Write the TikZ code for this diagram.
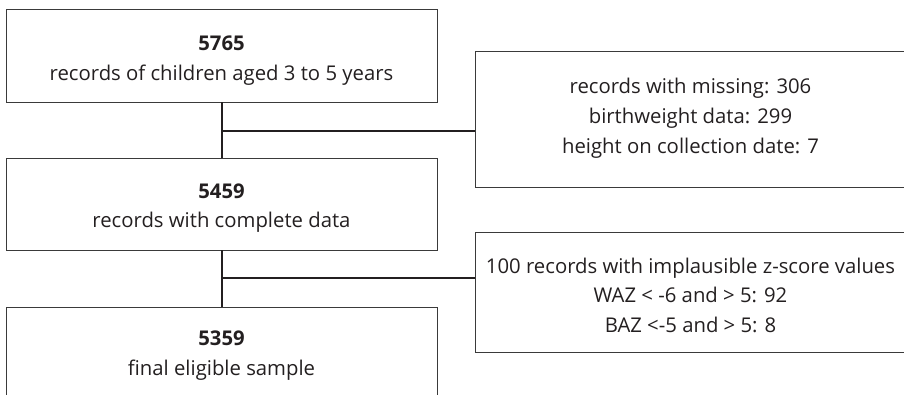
\documentclass[tikz,border=0pt]{standalone}
\usepackage{fontspec}
\setmainfont{Open Sans}
\definecolor{ink}{HTML}{231F20}
\definecolor{frame}{HTML}{3A3A3A}
\begin{document}
\begin{tikzpicture}[x=1pt,y=-1pt,
  box/.style={draw=frame,line width=1pt,rectangle,inner sep=0pt,outer sep=0pt,anchor=north west},
  conn/.style={draw=ink,line width=2pt},
  txt/.style={anchor=base,inner sep=0pt,text=ink,font=\fontsize{20.3}{30}\selectfont},
  num/.style={txt,font=\fontsize{20.3}{30}\selectfont\bfseries}]
\useasboundingbox (0,0) rectangle (904,394);
\clip (0,0) rectangle (904,394);
% boxes
\node[box,minimum width=431,minimum height=93] (b1) at (6,9) {};
\node[box,minimum width=431,minimum height=92] (b2) at (6,158) {};
\node[box,minimum width=431,minimum height=110] (b3) at (6,307) {};
\node[box,minimum width=432,minimum height=136] (r1) at (475,51) {};
\node[box,minimum width=432,minimum height=120] (r2) at (475,232) {};
% texts
\node[num] (t1a) at (221.5,50) {5765};
\node[txt] (t1b) at (221.5,80) {records of children aged 3 to 5 years};
\node[num] (t2a) at (221.5,198) {5459};
\node[txt] (t2b) at (221.5,227) {records with complete data};
\node[num] (t3a) at (221.5,345) {5359};
\node[txt] (t3b) at (221.5,375) {final eligible sample};
\node[txt] (r1a) at (690.5,93) {records with missing: 306};
\node[txt] (r1b) at (690.5,123) {birthweight data: 299};
\node[txt] (r1c) at (690.5,153) {height on collection date: 7};
\node[txt] (r2a) at (690.5,273) {100 records with implausible z-score values};
\node[txt] (r2b) at (690.5,302) {WAZ < -6 and > 5: 92};
\node[txt] (r2c) at (690.5,332) {BAZ <-5 and > 5: 8};
% connectors
\coordinate (j1) at (221.5,131);
\coordinate (j2) at (221.5,278);
\draw[conn] (b1.south) -- (b2.north);
\draw[conn] (j1) -- (j1 -| r1.west);
\draw[conn] (b2.south) -- (b3.north);
\draw[conn] (j2) -- (j2 -| r2.west);
\end{tikzpicture}
\end{document}
